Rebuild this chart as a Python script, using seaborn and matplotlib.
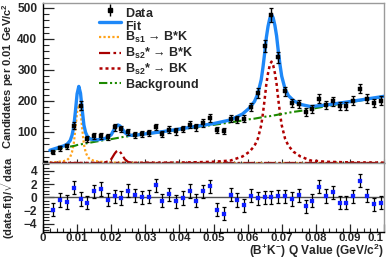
import numpy as np
import pandas as pd
import matplotlib
matplotlib.use("Agg")
import matplotlib.pyplot as plt
import seaborn as sns
from matplotlib.lines import Line2D
from matplotlib.ticker import FixedLocator, MultipleLocator, FuncFormatter

# ---------------- data ----------------
bin_centres = [0.001, 0.003, 0.005, 0.007, 0.009, 0.011, 0.013, 0.015, 0.017, 0.019,
               0.021, 0.023, 0.025, 0.027, 0.029, 0.031, 0.033, 0.035, 0.037, 0.039,
               0.041, 0.043, 0.045, 0.047, 0.049, 0.051, 0.053, 0.055, 0.057, 0.059,
               0.061, 0.063, 0.065, 0.067, 0.069, 0.071, 0.073, 0.075, 0.077, 0.079,
               0.081, 0.083, 0.085, 0.087, 0.089, 0.091, 0.093, 0.095, 0.097, 0.099]
counts = [0, 34, 47, 54, 120, 185, 77, 86, 88, 84,
          115, 110, 99, 91, 93, 96, 116, 94, 108, 102,
          110, 123, 115, 129, 145, 107, 104, 143, 141, 143,
          181, 226, 378, 478, 341, 231, 194, 190, 165, 174,
          208, 187, 199, 183, 183, 201, 240, 208, 194, 201]

resid_x = bin_centres[1:]
residuals = [-1.9, -0.4, -0.7, 1.45, -0.25, -0.8, 0.9, 1.25, -0.35, 0.15,
             -0.1, 1.0, 0.3, 0.0, 0.1, 1.8, -0.5, 0.45, -0.6, -0.1,
             0.95, -0.5, 0.9, 1.65, -1.9, -2.5, 0.4, -0.4, -1.2, 0.25,
             -0.15, 0.0, 0.0, 0.15, 0.15, -0.25, 0.3, -1.35, -0.5, 1.6,
             0.2, 0.75, -0.8, -0.8, 0.15, 2.5, 0.25, -1.05, -0.8]
resid_err = [1.0] * len(residuals)

curve_x = [0.002, 0.004, 0.006, 0.007, 0.0075, 0.008, 0.0085, 0.009, 0.0095, 0.010,
           0.0105, 0.011, 0.0115, 0.012, 0.0125, 0.013, 0.0135, 0.014, 0.015, 0.016,
           0.017, 0.018, 0.019, 0.020, 0.0205, 0.021, 0.0215, 0.022, 0.0225, 0.023,
           0.0235, 0.024, 0.025, 0.026, 0.027, 0.028, 0.030, 0.035, 0.040, 0.045,
           0.050, 0.055, 0.0585, 0.0605, 0.062, 0.063, 0.064, 0.0645, 0.065, 0.0655,
           0.066, 0.0665, 0.067, 0.0675, 0.068, 0.0685, 0.069, 0.0695, 0.070, 0.071,
           0.072, 0.0735, 0.0755, 0.0785, 0.083, 0.090, 0.095, 0.100]
background = [40, 45, 49, 51, 52, 53, 54, 55, 56, 58,
              59, 60, 61, 62, 63, 64, 65, 66, 68, 70,
              72, 74, 76, 77, 78, 79, 80, 81, 82, 83,
              84, 85, 86, 87.5, 89, 90, 93, 100, 108, 116,
              123, 131, 137, 141, 143, 145, 147, 148, 149, 150,
              151, 151, 152, 153, 154, 155, 156, 157, 158, 160,
              162, 165, 168, 174, 183, 196, 205, 214]
bs1_bstark = [1, 3, 6, 9, 14, 20, 35, 60, 110, 165,
              188, 165, 110, 60, 35, 22, 15, 11, 7, 5,
              4, 3, 2.5, 2, 2, 1.5, 1.5, 1.5, 1, 1,
              1, 1, 1, 0.5, 0.5, 0.5, 0, 0, 0, 0,
              0, 0, 0, 0, 0, 0, 0, 0, 0, 0,
              0, 0, 0, 0, 0, 0, 0, 0, 0, 0,
              0, 0, 0, 0, 0, 0, 0, 0]
bs2_bstark = [0, 0, 0, 0, 0, 0, 0, 0, 0, 0,
              0, 0, 0, 0, 0, 0, 0, 0, 0, 0,
              0.5, 1.5, 5, 12, 21, 30, 37, 40, 37, 30,
              21, 12, 3, 1, 0, 0, 0, 0, 0, 0,
              0, 0, 0, 0, 0, 0, 0, 0, 0, 0,
              0, 0, 0, 0, 0, 0, 0, 0, 0, 0,
              0, 0, 0, 0, 0, 0, 0, 0]
bs2_bk = [0, 0, 0, 0, 0, 0, 0, 0, 0, 0,
          0, 0, 0, 0, 0, 0, 0, 0, 0, 0,
          0, 0, 0, 0, 0, 0, 0, 0, 0, 0,
          0, 0, 0, 0.5, 0.5, 0.5, 1, 1, 1.5, 2.5,
          4, 8, 21, 36, 55, 78, 122, 160, 205, 255,
          290, 315, 327, 315, 290, 255, 205, 160, 122, 78,
          55, 36, 21, 8, 4, 2, 1.5, 1]
fit_total = [41, 48, 55, 60, 66, 73, 89, 115, 166, 223,
             247, 225, 171, 122, 98, 86, 80, 77, 75, 75,
             76.5, 78.5, 83.5, 91, 101, 110.5, 118.5, 122.5, 120, 114,
             106, 98, 90, 89.5, 90, 91, 94, 101, 109.5, 118.5,
             127, 139, 158, 177, 198, 223, 269, 308, 354, 405,
             441, 466, 479, 468, 444, 410, 361, 317, 280, 238,
             217, 201, 189, 182, 187, 198, 206.5, 215]

x_ticks = [0.0, 0.01, 0.02, 0.03, 0.04, 0.05, 0.06, 0.07, 0.08, 0.09, 0.1]
y_ticks_top = [100, 200, 300, 400, 500]
y_ticks_bottom = [-4, -2, 0, 2, 4]

legend_labels = [r"Data$_{\rm }^{\rm }$", r"Fit$_{\rm }^{\rm }$",
                 r"B$_{\rm s1}$ → B*K", r"B$_{\rm s2}$* → B*K",
                 r"B$_{\rm s2}$* → BK", r"Background$_{\rm }^{\rm }$"]

# ---------------- style ----------------
sns.set_style("ticks")
plt.rcParams["font.family"] = ["Liberation Sans", "DejaVu Sans"]
plt.rcParams["font.weight"] = "bold"
plt.rcParams["mathtext.fontset"] = "custom"
plt.rcParams["mathtext.rm"] = "Liberation Sans:bold"
plt.rcParams["mathtext.bf"] = "Liberation Sans:bold"
plt.rcParams["mathtext.it"] = "Liberation Sans:bold"

c_fit = "#1e88f8"
c_bs1 = "#ffa31a"
c_bs2a = "#a80000"
c_bs2b = "#b00000"
c_bkg = "#1c8a00"
frame_grey = "#9a9a9a"

fig = plt.figure(figsize=(3.9, 2.59), dpi=100)
ax1 = fig.add_axes([43 / 390, 1 - 163 / 259, 341 / 390, 160 / 259])
ax2 = fig.add_axes([43 / 390, 1 - 232 / 259, 341 / 390, 69 / 259])

curves = pd.DataFrame({"x": curve_x, "bkg": background, "bs1": bs1_bstark,
                       "bs2a": bs2_bstark, "bs2b": bs2_bk, "fit": fit_total})

ls_bs1 = (0, (1.0, 1.0))
ls_bs2a = (0, (5, 1.5, 1.2, 1.5))
ls_bs2b = (0, (1.2, 1.2))
ls_bkg = (0, (4, 1.3, 1, 1.3, 1, 1.3))

sns.lineplot(data=curves, x="x", y="bs1", ax=ax1, color=c_bs1, lw=1.6,
             linestyle=ls_bs1, sort=False, estimator=None, zorder=2)
sns.lineplot(data=curves, x="x", y="bs2a", ax=ax1, color=c_bs2a, lw=1.6,
             linestyle=ls_bs2a, sort=False, estimator=None, zorder=2)
sns.lineplot(data=curves, x="x", y="bs2b", ax=ax1, color=c_bs2b, lw=1.8,
             linestyle=ls_bs2b, sort=False, estimator=None, zorder=2)
sns.lineplot(data=curves, x="x", y="bkg", ax=ax1, color=c_bkg, lw=1.5,
             linestyle=ls_bkg, sort=False, estimator=None, zorder=3)
sns.lineplot(data=curves, x="x", y="fit", ax=ax1, color=c_fit, lw=2.4,
             sort=False, estimator=None, zorder=4)

cnt = np.array(counts, dtype=float)
ax1.errorbar(bin_centres, counts, yerr=np.sqrt(cnt), fmt="none", ecolor="black",
             elinewidth=1.0, capsize=1.6, capthick=0.9, zorder=5)
sns.scatterplot(x=bin_centres, y=counts, ax=ax1, marker="s", s=10, color="black",
                edgecolor="black", linewidth=0.3, zorder=6)

ax1.set_xlim(0, 0.1)
ax1.set_ylim(0, 516)
ax1.yaxis.set_major_locator(FixedLocator(y_ticks_top))
ax1.yaxis.set_minor_locator(MultipleLocator(20))
ax1.xaxis.set_major_locator(FixedLocator(x_ticks))
ax1.xaxis.set_minor_locator(MultipleLocator(0.002))
ax1.tick_params(axis="x", which="both", labelbottom=False, direction="in",
                length=3, width=0.8)
ax1.tick_params(axis="x", which="minor", length=1.5)
ax1.tick_params(axis="y", which="major", direction="in", length=8, width=0.9,
                labelsize=8.6, pad=4)
ax1.tick_params(axis="y", which="minor", direction="in", length=4, width=0.8)
ax1.set_xlabel("")
ax1.set_ylabel("")

# legend
h_data = ax1.errorbar([], [], yerr=[], fmt="s", ms=3, color="black",
                      ecolor="black", elinewidth=1.0)
handles = [h_data,
           Line2D([], [], color=c_fit, lw=2.4),
           Line2D([], [], color=c_bs1, lw=1.6, linestyle=ls_bs1),
           Line2D([], [], color=c_bs2a, lw=1.6, linestyle=ls_bs2a),
           Line2D([], [], color=c_bs2b, lw=1.8, linestyle=ls_bs2b),
           Line2D([], [], color=c_bkg, lw=1.5, linestyle=ls_bkg)]
leg = ax1.legend(handles, legend_labels, loc="upper left",
                 bbox_to_anchor=(0.138, 1.04), frameon=False, fontsize=9,
                 handlelength=1.75, handletextpad=0.35, labelspacing=0.04,
                 borderpad=0.2)

# residual panel
ax2.axhline(0, color="#505050", lw=1.0, zorder=1)
ax2.errorbar(resid_x, residuals, yerr=resid_err, fmt="none", ecolor="black",
             elinewidth=0.9, capsize=1.6, capthick=0.9, zorder=3)
sns.scatterplot(x=resid_x, y=residuals, ax=ax2, marker="s", s=7, color="#1020ff",
                edgecolor="#1020ff", linewidth=0.2, zorder=4)
ax2.set_xlim(0, 0.1)
ax2.set_ylim(-5.25, 5.2)
ax2.yaxis.set_major_locator(FixedLocator(y_ticks_bottom))
ax2.yaxis.set_minor_locator(MultipleLocator(0.5))
ax2.xaxis.set_major_locator(FixedLocator(x_ticks))
ax2.xaxis.set_minor_locator(MultipleLocator(0.002))
ax2.xaxis.set_major_formatter(FuncFormatter(lambda v, p: "%g" % round(v, 3)))
ax2.tick_params(axis="x", which="major", direction="in", length=6, width=0.9,
                labelsize=8.2, pad=1)
ax2.tick_params(axis="x", which="minor", direction="in", length=3, width=0.8)
ax2.tick_params(axis="y", which="major", direction="in", length=8, width=0.9,
                labelsize=8.6, pad=4)
ax2.tick_params(axis="y", which="minor", direction="in", length=4, width=0.8)
ax2.set_xlabel("")
ax2.set_ylabel("")

for ax in (ax1, ax2):
    for side in ("top", "right"):
        ax.spines[side].set_visible(True)
        ax.spines[side].set_color(frame_grey)
        ax.spines[side].set_linewidth(1.0)
    ax.spines["left"].set_color("black")
    ax.spines["bottom"].set_color("black")
    ax.spines["left"].set_linewidth(1.0)
    ax.spines["bottom"].set_linewidth(1.0)
    for lab in ax.get_yticklabels() + ax.get_xticklabels():
        lab.set_fontweight("bold")

# keep the last x tick label inside the canvas
xl = ax2.get_xticklabels()
xl[-1].set_horizontalalignment("right")
xl[-1].set_x(0.1)

fig.text(8 / 390, 1 - 3 / 259, r"Candidates per 0.01 GeV/c$^{2}$", rotation=90,
         ha="center", va="top", fontsize=8.0, fontweight="bold")
fig.text(8 / 390, 1 - 197 / 259, r"(data-fit)/$\sqrt{\rm data}$", rotation=90,
         ha="center", va="center", fontsize=8.0, fontweight="bold")
fig.text(384 / 390, 1 - 255.3 / 259, r"(B$^{+}$K$^{-}$) Q Value (GeV/c$^{2}$)",
         ha="right", va="baseline", fontsize=8.6, fontweight="bold")

fig.savefig("out.png", dpi=100)
